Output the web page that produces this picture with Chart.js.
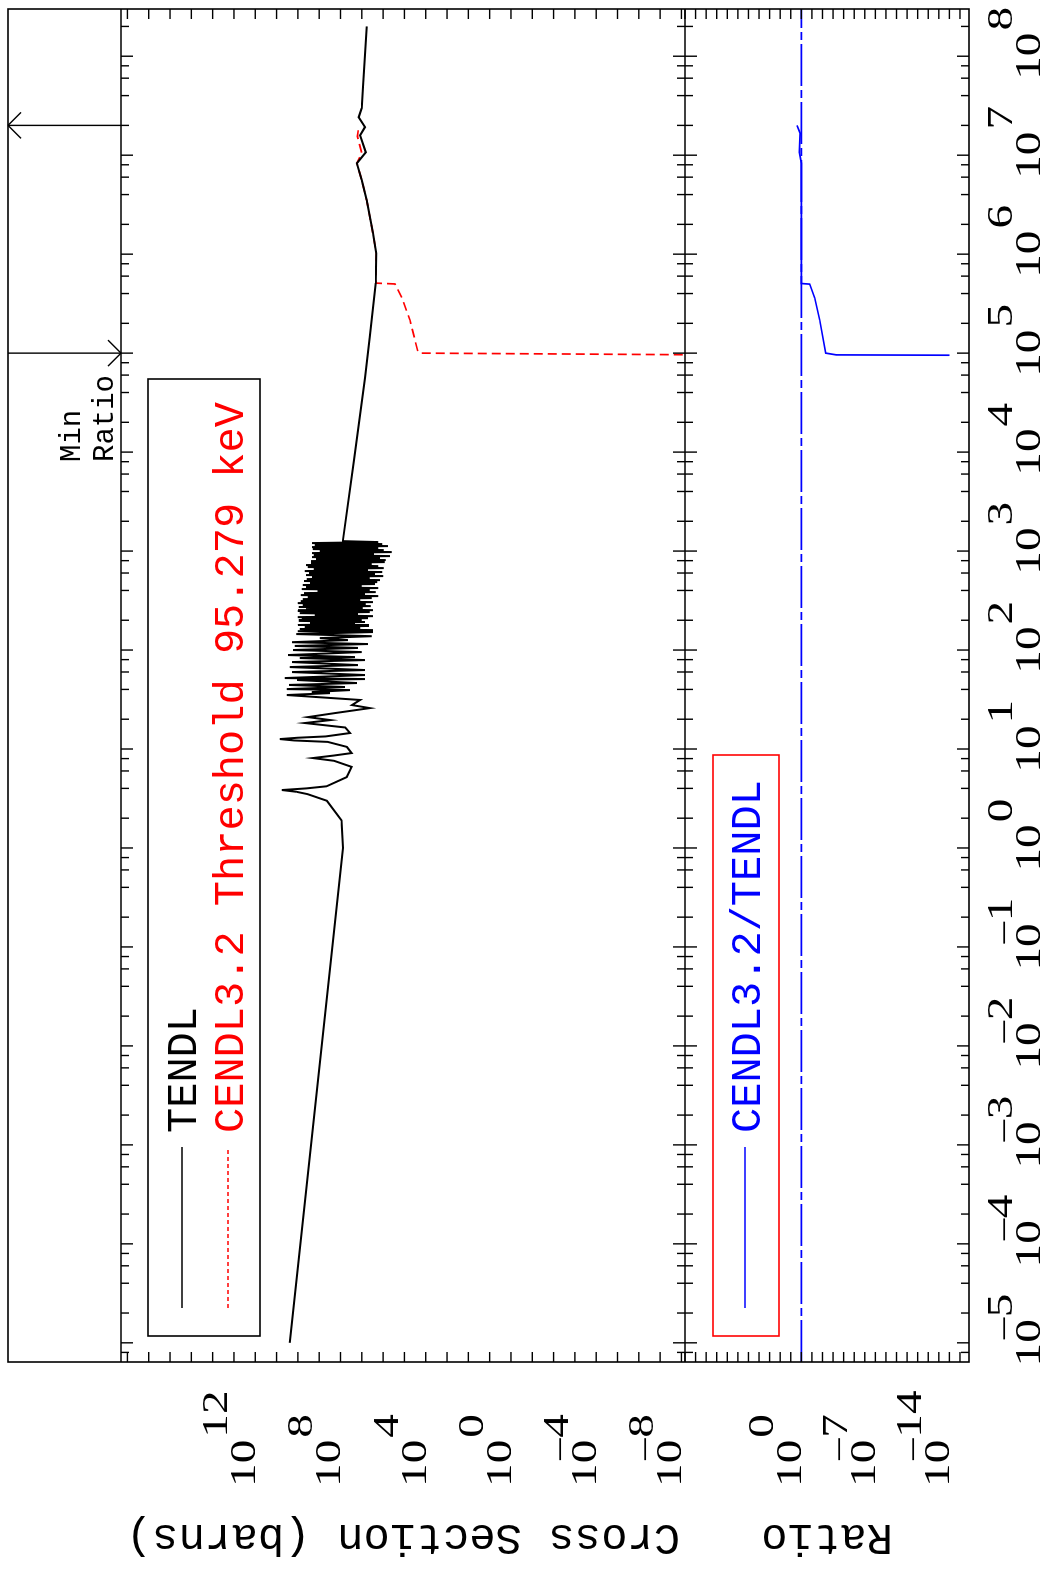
<!DOCTYPE html>
<html>
<head>
<meta charset="utf-8">
<script src="https://cdn.jsdelivr.net/npm/chart.js@4.4.0/dist/chart.umd.min.js"></script>
<style>
  html, body { margin: 0; padding: 0; background: #fff; overflow: hidden; }
  #page { position: absolute; left: 0; top: 0; width: 1048px; height: 1573px; overflow: hidden; background: #fff; }
  /* the plot is drawn landscape and turned a quarter turn, like the printed page */
  #wrap { position: absolute; left: 0; top: 1573px; width: 1573px; height: 1048px; transform-origin: 0 0; transform: rotate(-90deg); }
  canvas { display: block; }
</style>
</head>
<body>
<div id="page"><div id="wrap"><canvas id="plot" width="1573" height="1048"></canvas></div></div>
<script>
// axis limits and labelled decades
const xRange = [6.4e-6, 3.0e8];
const sigmaRange = [6.8e-9, 2.0e18];
const ratioRange = [1.4e-16, 1.0e11];
const xLabelExps = [-5, -4, -3, -2, -1, 0, 1, 2, 3, 4, 5, 6, 7, 8];
const sigmaLabelExps = [12, 8, 4, 0, -4, -8];
const ratioLabelExps = [0, -7, -14];
const xMinorMults = [2, 4, 6, 8];

// TENDL cross section (eV, barns)
const tendlEnergy = [
    1e-5, 1.0, 1.9, 3.0, 3.5, 3.7, 3.85, 4.0, 4.2, 5.2, 6.6, 7.6, 8.1, 8.6, 9.1, 10.5, 11.8, 12.2, 12.6, 13.0, 13.4, 14.5, 16.5, 18.3, 19.6, 21.0, 23.0, 25.9,
    27.8, 31.3, 35.1, 36.7, 37.6, 39.4, 40.3, 42.3, 44.4, 46.4, 49.8, 50.9, 52.1, 55.9, 59.9, 62.8, 67.3, 70.5, 75.6, 79.2, 83.0, 84.9,
    89.0, 95.4, 100, 105, 110, 115, 120, 126, 132, 138, 145, 152, 155,
    159, 163, 167, 171, 175, 179, 183, 188, 192, 197, 201, 206, 210, 215, 220, 226, 231, 236, 242, 248,
    253, 259, 266, 272, 278, 285, 291, 298, 305, 312, 320, 327, 335, 343, 351, 359, 368, 376, 385, 395,
    404, 413, 423, 433, 443, 454, 464, 475, 486, 498, 509, 521, 533, 546, 559, 572, 586, 599, 614, 628,
    643, 658, 673, 689, 705, 722, 739, 756, 774, 792, 811, 830, 849, 869, 890, 911, 932, 954, 977, 1000,
    1023, 1047, 1072, 1097, 1123, 1150, 1177, 1204, 1233,
    1260, 8300, 5.6e4, 1.45e5, 5.1e5, 1.02e6, 1.63e6, 3.5e6, 5.6e6, 8.3e6, 1.07e7, 1.59e7, 1.92e7, 2.42e7, 2.99e7, 4.9e7, 2.0e8
];
const tendlSigma = [
    2.4e10, 7.6e7, 8.9e7, 4.4e8, 3.5e9, 1.2e10, 5.6e10, 4.0e9, 4.5e8, 5.1e7, 3.0e7, 2.0e8, 2.0e9, 2.0e8, 3.0e7, 5.0e7, 4.0e8, 1.5e10, 7.0e10, 1.0e10, 5.0e8, 3.6e7, 6.0e7, 4.7e9, 3.0e8, 3.4e9, 2.0e8, 4.2e6,
    2.9e7, 1.2e7, 3.3e10, 3.1e8, 2.2e9, 3.6e7, 3.3e10, 6.2e7, 2.6e10, 1.7e7, 1.1e10, 7.1e6, 4.1e10, 7.1e6, 1.9e10, 7.1e6, 2.4e10, 1.5e7, 1.9e10, 7.1e6, 8.1e9, 2.1e7,
    2.9e10, 1.0e7, 1.7e10, 1.5e7, 1.4e10, 5.1e6, 1.9e10, 4.5e7, 9.3e8, 3.4e6, 1.2e10, 3.0e6, 1.0e10,
    3.0e6, 8.1e9, 1.2e7, 4.7e9, 5.1e6, 1.0e10, 2.1e7, 2.7e9, 7.1e6, 9.0e9, 1.0e7, 6.6e9, 5.1e6, 1.0e10, 3.0e6, 1.6e9, 1.5e7, 8.1e9, 4.2e6, 1.0e10,
    3.0e6, 4.2e9, 1.0e7, 9.0e9, 3.8e6, 5.9e9, 6.5e6, 1.0e10, 3.0e6, 7.3e9, 1.2e7, 5.9e9, 3.4e6, 3.4e9, 1.7e6, 7.3e9, 7.1e6, 5.2e9, 2.2e6, 1.2e9,
    4.2e6, 6.6e9, 1.7e6, 4.2e9, 1.0e7, 5.9e9, 2.4e6, 2.7e9, 1.9e6, 5.2e9, 1.4e6, 3.8e9, 4.2e6, 2.2e9, 1.0e6, 4.2e9, 2.4e6, 3.0e9, 1.1e6, 4.7e9,
    5.1e6, 1.8e9, 9.3e5, 3.4e9, 1.7e6, 4.2e9, 3.4e6, 2.4e9, 8.3e5, 2.4e9, 7.5e5, 1.4e9, 1.4e6, 2.2e9, 4.8e5, 1.8e9, 2.7e6, 2.2e9, 3.9e5, 9.3e8,
    9.3e5, 2.0e9, 1.7e6, 2.2e9, 5.9e5, 1.6e9, 1.1e6, 2.2e9, 1.7e6,
    7.8e7, 2.3e7, 7.1e6, 4.2e6, 2.2e6, 2.1e6, 3.0e6, 5.9e6, 1.0e7, 1.7e7, 6.5e6, 1.2e7, 7.1e6, 1.4e7, 1.0e7, 8.8e6, 5.9e6
];

// CENDL3.2 cross section (eV, barns), zero below threshold
const cendlEnergy = [95279, 1.0e5, 1.02e5, 2.15e5, 3.6e5, 5.0e5, 5.1e5, 1.02e6, 1.63e6, 3.5e6, 5.6e6, 8.3e6, 1.05e7, 1.55e7, 1.92e7];
const cendlSigma = [1e-12, 1.6e4, 2.3e4, 5.5e4, 1.3e5, 2.8e5, 2.2e6, 2.1e6, 3.0e6, 5.9e6, 1.0e7, 1.7e7, 1.0e7, 1.6e7, 1.4e7];

// CENDL3.2/TENDL ratio
const ratioEnergy = [95279, 9.6e4, 1.0e5, 2.15e5, 3.6e5, 4.98e5, 5.05e5, 8.3e6, 1.07e7, 1.67e7, 2.0e7];
const ratioValue = [1e-14, 4.8e-4, 4.9e-3, 0.018, 0.054, 0.16, 1.0, 1.0, 1.5, 1.3, 2.6];
const unityEnergy = [xRange[0], xRange[1]];
const unityValue = [1, 1];

// min ratio markers (eV)
const markerEnergy = [2e7, 1e5];

const legendTop = ["TENDL", "CENDL3.2 Threshold 95.279 keV"];
const legendRatio = "CENDL3.2/TENDL";

function toPoints(xs, ys) {
    return xs.map((x, i) => ({ x: x, y: ys[i] }));
}

const MONO = '"Liberation Mono", "DejaVu Sans Mono", monospace';
const SERIF = '"Liberation Serif", "DejaVu Serif", serif';

function stretched(ctx, text, x, y, sx) {
    ctx.save();
    ctx.translate(x, y);
    ctx.scale(sx, 1);
    ctx.textAlign = "left";
    ctx.textBaseline = "alphabetic";
    ctx.fillText(text, 0, 0);
    ctx.restore();
}

// "10" with a raised exponent; x is the centre of "10" or its left end
function drawPower(ctx, exp, x, y, centred) {
    const sx = 1.35;
    ctx.font = "35px " + SERIF;
    ctx.fillStyle = "#000";
    const w10 = ctx.measureText("10").width * sx;
    const x0 = centred ? x - w10 / 2 : x;
    stretched(ctx, "10", x0, y, sx);
    let xs = x0 + w10 + 2;
    if (exp < 0) {
        const wm = ctx.measureText("\u2212").width * sx;
        stretched(ctx, "\u2212", x0 + w10 - wm * 0.85, y - 24, sx);
    }
    stretched(ctx, String(Math.abs(exp)), xs, y - 28, sx);
}

function line(ctx, x1, y1, x2, y2) {
    ctx.beginPath();
    ctx.moveTo(x1, y1);
    ctx.lineTo(x2, y2);
    ctx.stroke();
}

const framePlugin = {
    id: "frame",
    afterDraw(chart) {
        const ctx = chart.ctx;
        const xs = chart.scales.x;
        const ys = chart.scales.ySigma;
        const yr = chart.scales.yRatio;
        const L = xs.left, R = xs.right;
        const T = ys.top, M = ys.bottom, B = yr.bottom;
        const OUT = 8;

        ctx.save();
        ctx.strokeStyle = "#000";
        ctx.lineWidth = 1.6;
        ctx.strokeRect(L, OUT, R - L, B - OUT);
        line(ctx, L, T, R, T);
        line(ctx, L, M, R, M);

        // energy ticks
        ctx.lineWidth = 1.4;
        const lo = Math.floor(Math.log10(xRange[0]));
        const hi = Math.ceil(Math.log10(xRange[1]));
        for (let k = lo; k <= hi; k++) {
            const d = Math.pow(10, k);
            if (d >= xRange[0] && d <= xRange[1]) {
                const u = xs.getPixelForValue(d);
                line(ctx, u, T, u, T + 12);
                line(ctx, u, M - 12, u, M + 12);
                line(ctx, u, B, u, B - 12);
            }
            xMinorMults.forEach(m => {
                const v = m * d;
                if (v < xRange[0] || v > xRange[1]) return;
                const u = xs.getPixelForValue(v);
                line(ctx, u, T, u, T + 8);
                line(ctx, u, M - 8, u, M + 8);
                line(ctx, u, B, u, B - 8);
            });
        }

        // cross section and ratio ticks, every decade
        [[ys, sigmaRange], [yr, ratioRange]].forEach(([sc, rg]) => {
            const a = Math.ceil(Math.log10(rg[0]));
            const b = Math.floor(Math.log10(rg[1]));
            for (let k = a; k <= b; k++) {
                const v = sc.getPixelForValue(Math.pow(10, k));
                line(ctx, L, v, L + 10, v);
                line(ctx, R, v, R - 10, v);
            }
        });

        // tick labels
        xLabelExps.forEach(k => drawPower(ctx, k, xs.getPixelForValue(Math.pow(10, k)), 1040, true));
        sigmaLabelExps.forEach(k => drawPower(ctx, k, 86, ys.getPixelForValue(Math.pow(10, k)), false));
        ratioLabelExps.forEach(k => drawPower(ctx, k, 86, yr.getPixelForValue(Math.pow(10, k)), false));

        // axis titles
        ctx.font = "44px " + MONO;
        ctx.fillStyle = "#000";
        ctx.textAlign = "center";
        ctx.textBaseline = "middle";
        [["Cross Section (barns)", (T + M) / 2], ["Ratio", (M + B) / 2]].forEach(([t, v]) => {
            ctx.save();
            ctx.translate(36, v);
            ctx.rotate(-Math.PI / 2);
            ctx.fillText(t, 0, 0);
            ctx.restore();
        });

        // min ratio markers
        ctx.lineWidth = 1.4;
        const u1 = xs.getPixelForValue(markerEnergy[0]);
        line(ctx, u1, T, u1, OUT);
        line(ctx, u1, OUT, u1 - 13, OUT + 13);
        line(ctx, u1, OUT, u1 + 13, OUT + 13);
        const u2 = xs.getPixelForValue(markerEnergy[1]);
        line(ctx, u2, OUT, u2, T);
        line(ctx, u2, T, u2 - 13, T - 13);
        line(ctx, u2, T, u2 + 13, T - 13);
        ctx.font = "29px " + MONO;
        ctx.textAlign = "left";
        ctx.textBaseline = "alphabetic";
        ctx.fillText("Min", 1111, 80);
        ctx.fillText("Ratio", 1111, 113);

        // legend, cross section panel
        ctx.lineWidth = 1.6;
        ctx.strokeStyle = "#000";
        ctx.strokeRect(237, 148, 957, 112);
        ctx.lineWidth = 1.5;
        line(ctx, 265, 182, 426, 182);
        ctx.strokeStyle = "#ff0000";
        ctx.setLineDash([4, 3]);
        line(ctx, 265, 228, 426, 228);
        ctx.setLineDash([]);
        ctx.font = "42px " + MONO;
        ctx.fillStyle = "#000";
        ctx.fillText(legendTop[0], 440, 196);
        ctx.fillStyle = "#ff0000";
        ctx.fillText(legendTop[1], 440, 243);

        // legend, ratio panel
        ctx.strokeStyle = "#ff0000";
        ctx.lineWidth = 1.6;
        ctx.strokeRect(237, 713, 581, 66);
        ctx.strokeStyle = "#0000ff";
        ctx.lineWidth = 1.5;
        line(ctx, 265, 745, 426, 745);
        ctx.fillStyle = "#0000ff";
        ctx.fillText(legendRatio, 440, 760);
        ctx.restore();
    }
};

const ctx = document.getElementById("plot").getContext("2d");

const hidden = { display: false };
// no tick marks from the library: they would eat space next to the plot area
const noGrid = { display: false, drawTicks: false };
const chart = new Chart(ctx, {
    type: "line",
    data: {
        datasets: [
            {
                label: "TENDL",
                data: toPoints(tendlEnergy, tendlSigma),
                yAxisID: "ySigma",
                borderColor: "#000000",
                borderWidth: 2
            },
            {
                label: "CENDL3.2 Threshold 95.279 keV",
                data: toPoints(cendlEnergy, cendlSigma),
                yAxisID: "ySigma",
                borderColor: "#ff0000",
                borderWidth: 1.7,
                borderDash: [9, 5]
            },
            {
                label: "unity",
                data: toPoints(unityEnergy, unityValue),
                yAxisID: "yRatio",
                borderColor: "#0000ff",
                borderWidth: 1.7,
                borderDash: [42, 4, 8, 4]
            },
            {
                label: "CENDL3.2/TENDL",
                data: toPoints(ratioEnergy, ratioValue),
                yAxisID: "yRatio",
                borderColor: "#0000ff",
                borderWidth: 1.7
            }
        ]
    },
    options: {
        responsive: false,
        animation: false,
        devicePixelRatio: 1,
        layout: { padding: { left: 211, right: 9, top: 121, bottom: 79 } },
        plugins: { legend: hidden, tooltip: { enabled: false } },
        elements: { point: { radius: 0 }, line: { tension: 0, fill: false } },
        scales: {
            x: {
                type: "logarithmic",
                min: xRange[0],
                max: xRange[1],
                bounds: "data",
                ticks: hidden,
                grid: noGrid,
                border: hidden
            },
            // left-hand stacked axes are placed in reverse order, so the lower panel comes first
            yRatio: {
                type: "logarithmic",
                position: "left",
                stack: "panels",
                stackWeight: 284,
                min: ratioRange[0],
                max: ratioRange[1],
                bounds: "data",
                ticks: hidden,
                grid: noGrid,
                border: hidden
            },
            ySigma: {
                type: "logarithmic",
                position: "left",
                stack: "panels",
                stackWeight: 564,
                min: sigmaRange[0],
                max: sigmaRange[1],
                bounds: "data",
                ticks: hidden,
                grid: noGrid,
                border: hidden
            }
        }
    },
    plugins: [framePlugin]
});
</script>
</body>
</html>
